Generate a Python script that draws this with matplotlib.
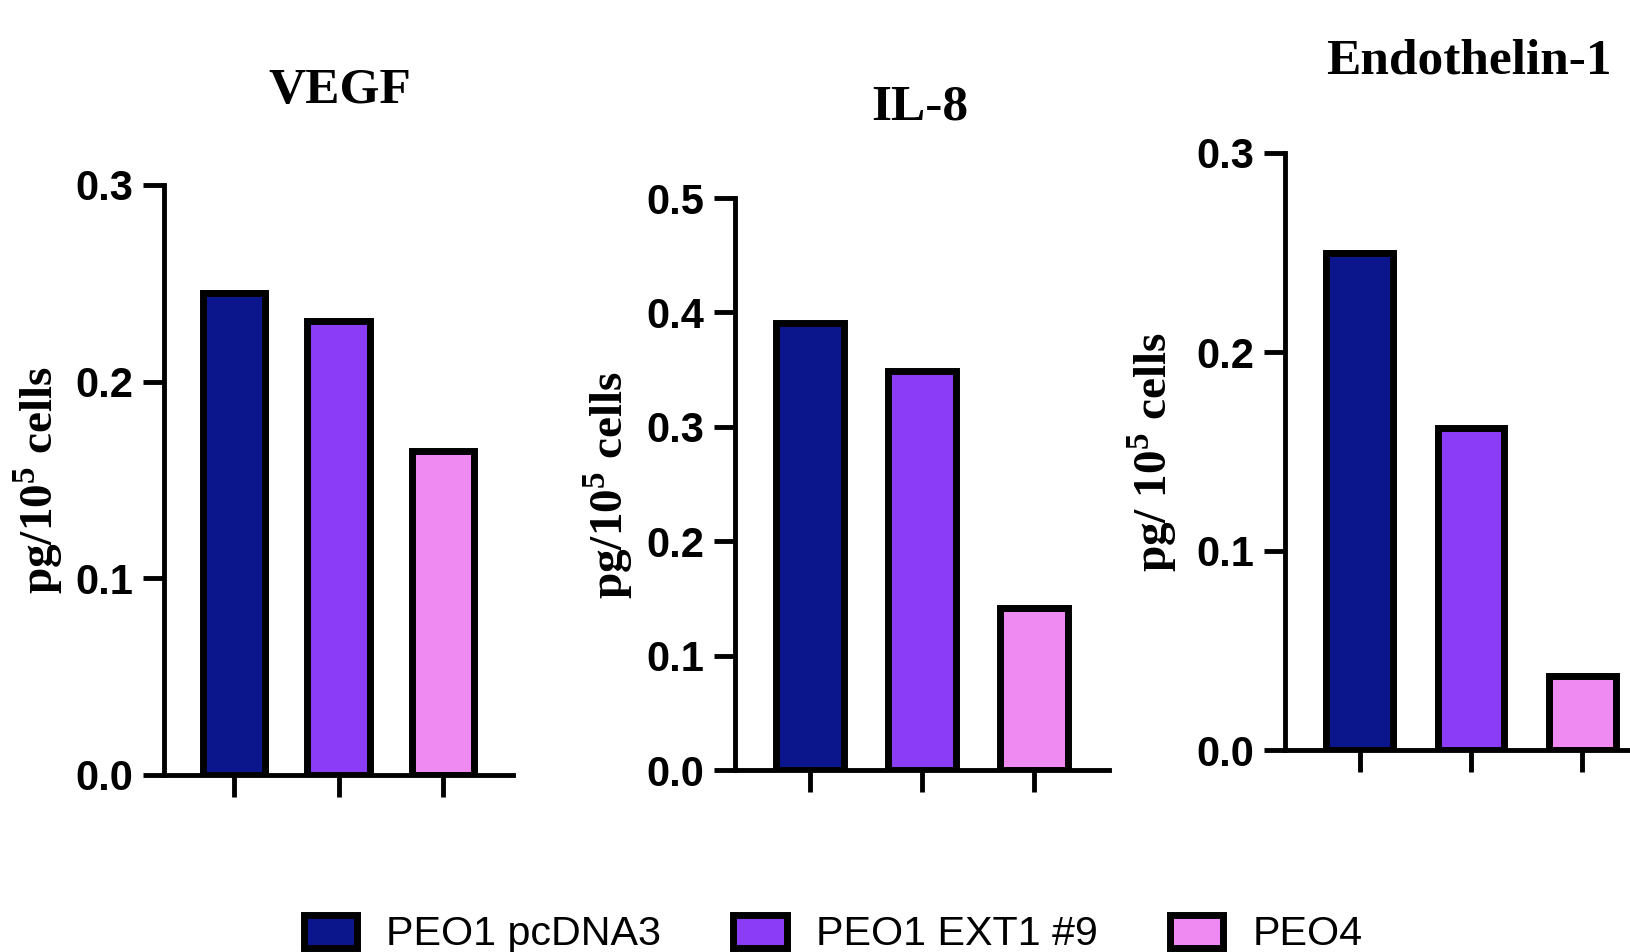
import matplotlib
matplotlib.use('Agg')
import matplotlib.pyplot as plt

# 字体设置
plt.rcParams['mathtext.fontset'] = 'custom'
plt.rcParams['mathtext.rm'] = 'Liberation Serif:bold'
plt.rcParams['mathtext.bf'] = 'Liberation Serif:bold'

# ========== 数据 ==========
groups = ['PEO1 pcDNA3', 'PEO1 EXT1 #9', 'PEO4']
colors = ['#0B168C', '#8B3CF6', '#EE8AF2']

vegf = [0.245, 0.231, 0.165]
il8 = [0.391, 0.349, 0.142]
endothelin = [0.250, 0.162, 0.037]

titles = ['VEGF', 'IL-8', 'Endothelin-1']
ylabels = [r'pg/10$^{5}$ cells', r'pg/10$^{5}$ cells', r'pg/ 10$^{5}$ cells']
ymaxes = [0.3, 0.5, 0.3]
yticks = [[0.0, 0.1, 0.2, 0.3],
          [0.0, 0.1, 0.2, 0.3, 0.4, 0.5],
          [0.0, 0.1, 0.2, 0.3]]

W, H = 1630, 952
fig = plt.figure(figsize=(W / 100, H / 100), dpi=100)

# 每个面板的位置（像素）：左、右、底、顶，标题和 y 轴标签的中心
panels = [
    dict(l=164, r=513, b=775, t=185, title=(340, 91), ylab=(38, 480)),
    dict(l=735, r=1109, b=770, t=198, title=(920, 107), ylab=(608, 485)),
    dict(l=1285, r=1657, b=750, t=153, title=(1469, 62), ylab=(1152, 452)),
]

data = [vegf, il8, endothelin]
x = range(len(groups))

for i, p in enumerate(panels):
    ax = fig.add_axes([p['l'] / W, 1 - p['b'] / H, (p['r'] - p['l']) / W, (p['b'] - p['t']) / H])
    ax.patch.set_alpha(0)
    bars = ax.bar(x, data[i], width=0.6, color=colors, edgecolor='black', linewidth=5)
    if i == 0:
        legend_handles = bars
    ax.set_xlim(-0.67, 2.67)
    ax.set_ylim(0, ymaxes[i])
    ax.set_yticks(yticks[i])
    ax.set_yticklabels([f'{v:.1f}' for v in yticks[i]],
                       fontfamily='Liberation Sans', fontweight='bold', fontsize=30)
    ax.set_xticks(list(x))
    ax.set_xticklabels([])
    for s in ['top', 'right']:
        ax.spines[s].set_visible(False)
    for s in ['left', 'bottom']:
        ax.spines[s].set_linewidth(3.5)
    ax.tick_params(axis='y', length=15, width=3.5, pad=7)
    ax.tick_params(axis='x', length=16, width=3.5)

    fig.text(p['title'][0] / W, 1 - p['title'][1] / H, titles[i],
             ha='center', va='center', fontfamily='Liberation Serif',
             fontweight='bold', fontsize=37)
    fig.text(p['ylab'][0] / W, 1 - p['ylab'][1] / H, ylabels[i],
             ha='center', va='center', rotation=90, fontfamily='Liberation Serif',
             fontweight='bold', fontsize=34)

fig.legend(legend_handles, groups, loc='center', bbox_to_anchor=(833 / W, 1 - 934 / H),
           ncol=3, frameon=False, prop={'family': 'Liberation Sans', 'size': 29.7},
           handlelength=1.3, handleheight=0.85, handletextpad=0.7, columnspacing=1.75)

fig.savefig('out.png', dpi=100)
